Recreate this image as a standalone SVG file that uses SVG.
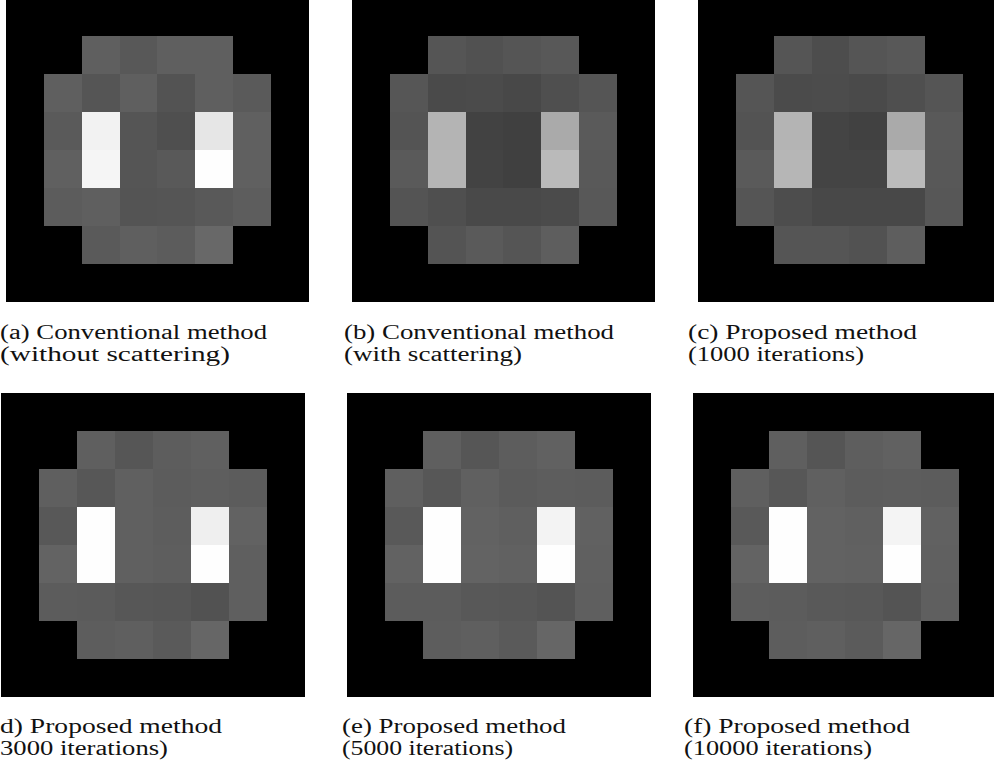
<svg xmlns="http://www.w3.org/2000/svg" width="994" height="775" viewBox="0 0 994 775">
<style>
.bg{fill:#000}
.px rect{shape-rendering:crispEdges}
.cap{font-family:"Liberation Serif","Times New Roman",serif;font-size:20px;fill:#111}
</style>
<rect x="0" y="0" width="994" height="775" fill="#fff"/>

<g id="panel-a">
<g class="px" transform="translate(6,-2) scale(37.85,38)">
<rect class="bg" x="0" y="0" width="8" height="8"/>
<rect x="2" y="1" width="1" height="1" fill="#5f5f5f"/><rect x="3" y="1" width="1" height="1" fill="#585858"/><rect x="4" y="1" width="1" height="1" fill="#5f5f5f"/><rect x="5" y="1" width="1" height="1" fill="#5f5f5f"/>
<rect x="1" y="2" width="1" height="1" fill="#5f5f5f"/><rect x="2" y="2" width="1" height="1" fill="#555555"/><rect x="3" y="2" width="1" height="1" fill="#5f5f5f"/><rect x="4" y="2" width="1" height="1" fill="#535353"/><rect x="5" y="2" width="1" height="1" fill="#5f5f5f"/><rect x="6" y="2" width="1" height="1" fill="#5a5a5a"/>
<rect x="1" y="3" width="1" height="1" fill="#5a5a5a"/><rect x="2" y="3" width="1" height="1" fill="#f2f2f2"/><rect x="3" y="3" width="1" height="1" fill="#555555"/><rect x="4" y="3" width="1" height="1" fill="#4f4f4f"/><rect x="5" y="3" width="1" height="1" fill="#e6e6e6"/><rect x="6" y="3" width="1" height="1" fill="#606060"/>
<rect x="1" y="4" width="1" height="1" fill="#606060"/><rect x="2" y="4" width="1" height="1" fill="#f5f5f5"/><rect x="3" y="4" width="1" height="1" fill="#555555"/><rect x="4" y="4" width="1" height="1" fill="#595959"/><rect x="5" y="4" width="1" height="1" fill="#fefefe"/><rect x="6" y="4" width="1" height="1" fill="#606060"/>
<rect x="1" y="5" width="1" height="1" fill="#5c5c5c"/><rect x="2" y="5" width="1" height="1" fill="#5f5f5f"/><rect x="3" y="5" width="1" height="1" fill="#545454"/><rect x="4" y="5" width="1" height="1" fill="#555555"/><rect x="5" y="5" width="1" height="1" fill="#595959"/><rect x="6" y="5" width="1" height="1" fill="#5d5d5d"/>
<rect x="2" y="6" width="1" height="1" fill="#5a5a5a"/><rect x="3" y="6" width="1" height="1" fill="#5f5f5f"/><rect x="4" y="6" width="1" height="1" fill="#5c5c5c"/><rect x="5" y="6" width="1" height="1" fill="#686868"/>
</g>
<text class="cap" x="0" y="339" textLength="267" lengthAdjust="spacingAndGlyphs">(a) Conventional method</text>
<text class="cap" x="0" y="361" textLength="230" lengthAdjust="spacingAndGlyphs">(without scattering)</text>
</g>

<g id="panel-b">
<g class="px" transform="translate(352,-2) scale(37.85,38)">
<rect class="bg" x="0" y="0" width="8" height="8"/>
<rect x="2" y="1" width="1" height="1" fill="#555555"/><rect x="3" y="1" width="1" height="1" fill="#515151"/><rect x="4" y="1" width="1" height="1" fill="#555555"/><rect x="5" y="1" width="1" height="1" fill="#585858"/>
<rect x="1" y="2" width="1" height="1" fill="#565656"/><rect x="2" y="2" width="1" height="1" fill="#4a4a4a"/><rect x="3" y="2" width="1" height="1" fill="#4b4b4b"/><rect x="4" y="2" width="1" height="1" fill="#484848"/><rect x="5" y="2" width="1" height="1" fill="#4f4f4f"/><rect x="6" y="2" width="1" height="1" fill="#555555"/>
<rect x="1" y="3" width="1" height="1" fill="#545454"/><rect x="2" y="3" width="1" height="1" fill="#b4b4b4"/><rect x="3" y="3" width="1" height="1" fill="#424242"/><rect x="4" y="3" width="1" height="1" fill="#404040"/><rect x="5" y="3" width="1" height="1" fill="#aaaaaa"/><rect x="6" y="3" width="1" height="1" fill="#5a5a5a"/>
<rect x="1" y="4" width="1" height="1" fill="#5a5a5a"/><rect x="2" y="4" width="1" height="1" fill="#b5b5b5"/><rect x="3" y="4" width="1" height="1" fill="#434343"/><rect x="4" y="4" width="1" height="1" fill="#404040"/><rect x="5" y="4" width="1" height="1" fill="#bababa"/><rect x="6" y="4" width="1" height="1" fill="#595959"/>
<rect x="1" y="5" width="1" height="1" fill="#545454"/><rect x="2" y="5" width="1" height="1" fill="#4f4f4f"/><rect x="3" y="5" width="1" height="1" fill="#494949"/><rect x="4" y="5" width="1" height="1" fill="#494949"/><rect x="5" y="5" width="1" height="1" fill="#4b4b4b"/><rect x="6" y="5" width="1" height="1" fill="#585858"/>
<rect x="2" y="6" width="1" height="1" fill="#545454"/><rect x="3" y="6" width="1" height="1" fill="#5a5a5a"/><rect x="4" y="6" width="1" height="1" fill="#555555"/><rect x="5" y="6" width="1" height="1" fill="#5e5e5e"/>
</g>
<text class="cap" x="344" y="339" textLength="270" lengthAdjust="spacingAndGlyphs">(b) Conventional method</text>
<text class="cap" x="344" y="361" textLength="178" lengthAdjust="spacingAndGlyphs">(with scattering)</text>
</g>

<g id="panel-c">
<g class="px" transform="translate(698,-2) scale(37.85,38)">
<rect class="bg" x="0" y="0" width="8" height="8"/>
<rect x="2" y="1" width="1" height="1" fill="#555555"/><rect x="3" y="1" width="1" height="1" fill="#4d4d4d"/><rect x="4" y="1" width="1" height="1" fill="#555555"/><rect x="5" y="1" width="1" height="1" fill="#585858"/>
<rect x="1" y="2" width="1" height="1" fill="#555555"/><rect x="2" y="2" width="1" height="1" fill="#4b4b4b"/><rect x="3" y="2" width="1" height="1" fill="#4c4c4c"/><rect x="4" y="2" width="1" height="1" fill="#4a4a4a"/><rect x="5" y="2" width="1" height="1" fill="#4f4f4f"/><rect x="6" y="2" width="1" height="1" fill="#555555"/>
<rect x="1" y="3" width="1" height="1" fill="#535353"/><rect x="2" y="3" width="1" height="1" fill="#b4b4b4"/><rect x="3" y="3" width="1" height="1" fill="#444444"/><rect x="4" y="3" width="1" height="1" fill="#414141"/><rect x="5" y="3" width="1" height="1" fill="#aaaaaa"/><rect x="6" y="3" width="1" height="1" fill="#595959"/>
<rect x="1" y="4" width="1" height="1" fill="#5a5a5a"/><rect x="2" y="4" width="1" height="1" fill="#b6b6b6"/><rect x="3" y="4" width="1" height="1" fill="#444444"/><rect x="4" y="4" width="1" height="1" fill="#444444"/><rect x="5" y="4" width="1" height="1" fill="#bbbbbb"/><rect x="6" y="4" width="1" height="1" fill="#585858"/>
<rect x="1" y="5" width="1" height="1" fill="#555555"/><rect x="2" y="5" width="1" height="1" fill="#4d4d4d"/><rect x="3" y="5" width="1" height="1" fill="#484848"/><rect x="4" y="5" width="1" height="1" fill="#484848"/><rect x="5" y="5" width="1" height="1" fill="#484848"/><rect x="6" y="5" width="1" height="1" fill="#575757"/>
<rect x="2" y="6" width="1" height="1" fill="#555555"/><rect x="3" y="6" width="1" height="1" fill="#555555"/><rect x="4" y="6" width="1" height="1" fill="#525252"/><rect x="5" y="6" width="1" height="1" fill="#5e5e5e"/>
</g>
<text class="cap" x="688" y="339" textLength="229" lengthAdjust="spacingAndGlyphs">(c) Proposed method</text>
<text class="cap" x="688" y="361" textLength="176" lengthAdjust="spacingAndGlyphs">(1000 iterations)</text>
</g>

<g id="panel-d">
<g class="px" transform="translate(1,393) scale(38,38)">
<rect class="bg" x="0" y="0" width="8" height="8"/>
<rect x="2" y="1" width="1" height="1" fill="#5f5f5f"/><rect x="3" y="1" width="1" height="1" fill="#565656"/><rect x="4" y="1" width="1" height="1" fill="#5d5d5d"/><rect x="5" y="1" width="1" height="1" fill="#606060"/>
<rect x="1" y="2" width="1" height="1" fill="#5f5f5f"/><rect x="2" y="2" width="1" height="1" fill="#575757"/><rect x="3" y="2" width="1" height="1" fill="#606060"/><rect x="4" y="2" width="1" height="1" fill="#5c5c5c"/><rect x="5" y="2" width="1" height="1" fill="#5e5e5e"/><rect x="6" y="2" width="1" height="1" fill="#5c5c5c"/>
<rect x="1" y="3" width="1" height="1" fill="#585858"/><rect x="2" y="3" width="1" height="1" fill="#fefefe"/><rect x="3" y="3" width="1" height="1" fill="#606060"/><rect x="4" y="3" width="1" height="1" fill="#5d5d5d"/><rect x="5" y="3" width="1" height="1" fill="#efefef"/><rect x="6" y="3" width="1" height="1" fill="#626262"/>
<rect x="1" y="4" width="1" height="1" fill="#636363"/><rect x="2" y="4" width="1" height="1" fill="#fefefe"/><rect x="3" y="4" width="1" height="1" fill="#606060"/><rect x="4" y="4" width="1" height="1" fill="#5e5e5e"/><rect x="5" y="4" width="1" height="1" fill="#fefefe"/><rect x="6" y="4" width="1" height="1" fill="#5f5f5f"/>
<rect x="1" y="5" width="1" height="1" fill="#5c5c5c"/><rect x="2" y="5" width="1" height="1" fill="#5b5b5b"/><rect x="3" y="5" width="1" height="1" fill="#575757"/><rect x="4" y="5" width="1" height="1" fill="#565656"/><rect x="5" y="5" width="1" height="1" fill="#525252"/><rect x="6" y="5" width="1" height="1" fill="#5f5f5f"/>
<rect x="2" y="6" width="1" height="1" fill="#5d5d5d"/><rect x="3" y="6" width="1" height="1" fill="#5f5f5f"/><rect x="4" y="6" width="1" height="1" fill="#5a5a5a"/><rect x="5" y="6" width="1" height="1" fill="#666666"/>
</g>
<text class="cap" x="0" y="733" textLength="222" lengthAdjust="spacingAndGlyphs">d) Proposed method</text>
<text class="cap" x="0" y="755" textLength="168" lengthAdjust="spacingAndGlyphs">3000 iterations)</text>
</g>

<g id="panel-e">
<g class="px" transform="translate(347,393) scale(38,38)">
<rect class="bg" x="0" y="0" width="8" height="8"/>
<rect x="2" y="1" width="1" height="1" fill="#5f5f5f"/><rect x="3" y="1" width="1" height="1" fill="#565656"/><rect x="4" y="1" width="1" height="1" fill="#5d5d5d"/><rect x="5" y="1" width="1" height="1" fill="#616161"/>
<rect x="1" y="2" width="1" height="1" fill="#5f5f5f"/><rect x="2" y="2" width="1" height="1" fill="#575757"/><rect x="3" y="2" width="1" height="1" fill="#606060"/><rect x="4" y="2" width="1" height="1" fill="#5b5b5b"/><rect x="5" y="2" width="1" height="1" fill="#5d5d5d"/><rect x="6" y="2" width="1" height="1" fill="#5c5c5c"/>
<rect x="1" y="3" width="1" height="1" fill="#595959"/><rect x="2" y="3" width="1" height="1" fill="#fefefe"/><rect x="3" y="3" width="1" height="1" fill="#626262"/><rect x="4" y="3" width="1" height="1" fill="#5f5f5f"/><rect x="5" y="3" width="1" height="1" fill="#f3f3f3"/><rect x="6" y="3" width="1" height="1" fill="#616161"/>
<rect x="1" y="4" width="1" height="1" fill="#626262"/><rect x="2" y="4" width="1" height="1" fill="#fefefe"/><rect x="3" y="4" width="1" height="1" fill="#636363"/><rect x="4" y="4" width="1" height="1" fill="#616161"/><rect x="5" y="4" width="1" height="1" fill="#fefefe"/><rect x="6" y="4" width="1" height="1" fill="#606060"/>
<rect x="1" y="5" width="1" height="1" fill="#5c5c5c"/><rect x="2" y="5" width="1" height="1" fill="#5c5c5c"/><rect x="3" y="5" width="1" height="1" fill="#585858"/><rect x="4" y="5" width="1" height="1" fill="#575757"/><rect x="5" y="5" width="1" height="1" fill="#545454"/><rect x="6" y="5" width="1" height="1" fill="#5f5f5f"/>
<rect x="2" y="6" width="1" height="1" fill="#5d5d5d"/><rect x="3" y="6" width="1" height="1" fill="#5f5f5f"/><rect x="4" y="6" width="1" height="1" fill="#5a5a5a"/><rect x="5" y="6" width="1" height="1" fill="#666666"/>
</g>
<text class="cap" x="342" y="733" textLength="224" lengthAdjust="spacingAndGlyphs">(e) Proposed method</text>
<text class="cap" x="342" y="755" textLength="171" lengthAdjust="spacingAndGlyphs">(5000 iterations)</text>
</g>

<g id="panel-f">
<g class="px" transform="translate(693,393) scale(38,38)">
<rect class="bg" x="0" y="0" width="8" height="8"/>
<rect x="2" y="1" width="1" height="1" fill="#5f5f5f"/><rect x="3" y="1" width="1" height="1" fill="#555555"/><rect x="4" y="1" width="1" height="1" fill="#5e5e5e"/><rect x="5" y="1" width="1" height="1" fill="#616161"/>
<rect x="1" y="2" width="1" height="1" fill="#5f5f5f"/><rect x="2" y="2" width="1" height="1" fill="#575757"/><rect x="3" y="2" width="1" height="1" fill="#606060"/><rect x="4" y="2" width="1" height="1" fill="#5c5c5c"/><rect x="5" y="2" width="1" height="1" fill="#5d5d5d"/><rect x="6" y="2" width="1" height="1" fill="#5c5c5c"/>
<rect x="1" y="3" width="1" height="1" fill="#595959"/><rect x="2" y="3" width="1" height="1" fill="#fefefe"/><rect x="3" y="3" width="1" height="1" fill="#626262"/><rect x="4" y="3" width="1" height="1" fill="#606060"/><rect x="5" y="3" width="1" height="1" fill="#f4f4f4"/><rect x="6" y="3" width="1" height="1" fill="#616161"/>
<rect x="1" y="4" width="1" height="1" fill="#636363"/><rect x="2" y="4" width="1" height="1" fill="#fefefe"/><rect x="3" y="4" width="1" height="1" fill="#626262"/><rect x="4" y="4" width="1" height="1" fill="#616161"/><rect x="5" y="4" width="1" height="1" fill="#fefefe"/><rect x="6" y="4" width="1" height="1" fill="#606060"/>
<rect x="1" y="5" width="1" height="1" fill="#5d5d5d"/><rect x="2" y="5" width="1" height="1" fill="#5c5c5c"/><rect x="3" y="5" width="1" height="1" fill="#595959"/><rect x="4" y="5" width="1" height="1" fill="#585858"/><rect x="5" y="5" width="1" height="1" fill="#545454"/><rect x="6" y="5" width="1" height="1" fill="#5f5f5f"/>
<rect x="2" y="6" width="1" height="1" fill="#5d5d5d"/><rect x="3" y="6" width="1" height="1" fill="#5f5f5f"/><rect x="4" y="6" width="1" height="1" fill="#5b5b5b"/><rect x="5" y="6" width="1" height="1" fill="#666666"/>
</g>
<text class="cap" x="684" y="733" textLength="226" lengthAdjust="spacingAndGlyphs">(f) Proposed method</text>
<text class="cap" x="684" y="755" textLength="188" lengthAdjust="spacingAndGlyphs">(10000 iterations)</text>
</g>
</svg>
